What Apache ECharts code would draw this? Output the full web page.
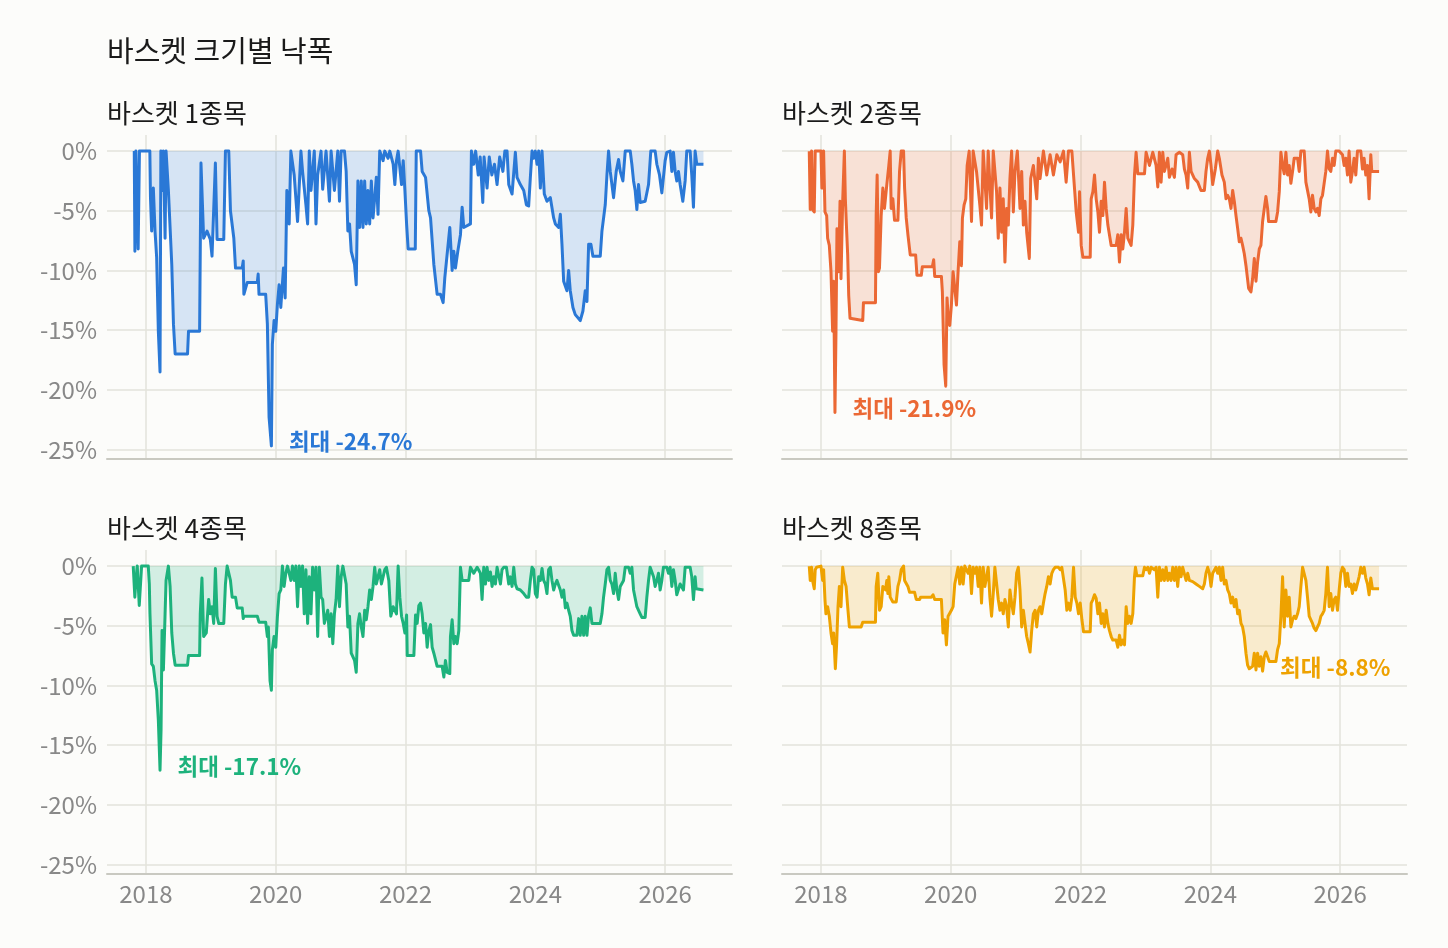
<!DOCTYPE html>
<html>
<head>
<meta charset="utf-8">
<script src="https://cdn.jsdelivr.net/npm/echarts@6/dist/echarts.min.js"></script>
<style>
  html, body { margin: 0; padding: 0; background: #fcfcfa; }
  #chart { width: 1448px; height: 948px; }
</style>
</head>
<body>
<div id="chart"></div>
<script>
// drawdown (%) per basket size, [year, value]
const basket1 = [
  [2017.82,0],[2017.83,-8.4],[2017.845,0],[2017.87,0],[2017.88,-8.2],[2017.90,0],[2018.06,0],[2018.07,-3.9],
  [2018.088,-6.7],[2018.114,-3.1],[2018.14,-6.7],[2018.165,-8.9],[2018.191,-15.1],[2018.217,-18.5],[2018.23,0],
  [2018.243,-3.3],[2018.269,0],[2018.295,-7.3],[2018.31,0],[2018.346,-3.3],[2018.372,-3.3],[2018.398,-9.5],
  [2018.424,-14.5],[2018.45,-17.0],[2018.641,-17.0],[2018.656,-15.1],[2018.827,-15.1],[2018.848,-1.0],
  [2018.889,-7.3],[2018.941,-6.7],[2018.992,-7.4],[2019.018,-8.8],[2019.07,-1.0],[2019.096,-7.4],[2019.199,-7.4],
  [2019.225,0],[2019.276,0],[2019.302,-5.0],[2019.354,-7.3],[2019.38,-9.8],[2019.483,-9.8],[2019.499,-9.2],
  [2019.509,-12.0],[2019.535,-12.0],[2019.561,-11.0],[2019.716,-11.0],[2019.729,-10.3],[2019.742,-12.0],
  [2019.845,-12.0],[2019.871,-14.5],[2019.897,-22.3],[2019.933,-24.7],[2019.948,-16.2],[2019.974,-14.2],
  [2020.0,-15.1],[2020.026,-12.8],[2020.052,-11.2],[2020.078,-13.1],[2020.119,-9.8],[2020.145,-12.3],
  [2020.171,-3.3],[2020.207,-6.1],[2020.233,0],[2020.284,-2.0],[2020.336,-5.9],[2020.388,0],[2020.413,-1.7],
  [2020.465,-4.5],[2020.491,-6.1],[2020.517,0],[2020.543,-3.3],[2020.594,0],[2020.62,-6.1],[2020.646,-2.0],
  [2020.698,0],[2020.723,-3.2],[2020.775,0],[2020.827,-4.2],[2020.853,0],[2020.904,-3.3],[2020.956,0],
  [2020.982,-4.2],[2021.008,0],[2021.059,0],[2021.085,-1.7],[2021.111,-6.7],[2021.137,-6.1],[2021.163,-8.4],
  [2021.214,-9.5],[2021.24,-11.2],[2021.266,-2.5],[2021.292,-6.4],[2021.318,-2.5],[2021.344,-6.4],[2021.37,-2.5],
  [2021.395,-6.1],[2021.421,-3.3],[2021.447,-6.1],[2021.473,-2.5],[2021.499,-5.6],[2021.525,-3.9],[2021.55,-2.2],
  [2021.576,-5.3],[2021.602,0],[2021.654,-0.8],[2021.68,0],[2021.731,-0.6],[2021.757,0],[2021.809,-1.1],
  [2021.835,-2.8],[2021.86,-0.8],[2021.886,0],[2021.938,-2.8],[2021.964,-0.8],[2021.99,-3.3],[2022.016,-6.1],
  [2022.04,-8.2],[2022.15,-8.2],[2022.165,0],[2022.231,0],[2022.256,-1.7],[2022.308,-2.2],[2022.359,-5.0],
  [2022.385,-5.6],[2022.436,-9.5],[2022.487,-12.0],[2022.538,-12.0],[2022.579,-12.7],[2022.605,-10.6],
  [2022.682,-6.4],[2022.718,-10.0],[2022.744,-8.4],[2022.769,-9.8],[2022.805,-8.4],[2022.846,-7.0],
  [2022.872,-4.7],[2022.897,-6.4],[2023.0,-6.1],[2023.015,0],[2023.05,-1.1],[2023.08,0],[2023.12,-2.0],
  [2023.15,-0.5],[2023.19,-4.3],[2023.21,-0.5],[2023.256,-3.1],[2023.29,-0.5],[2023.33,-2.0],[2023.37,-1.1],
  [2023.41,-2.8],[2023.45,-0.5],[2023.5,-1.7],[2023.53,0],[2023.564,0],[2023.59,-2.8],[2023.641,-3.6],
  [2023.692,-0.1],[2023.718,-2.2],[2023.769,-2.8],[2023.821,-3.3],[2023.862,-4.5],[2023.897,-4.6],
  [2023.923,-2.2],[2023.949,0],[2023.974,-0.6],[2024.0,0],[2024.026,-1.1],[2024.051,0],[2024.077,-3.1],
  [2024.103,0],[2024.138,-3.6],[2024.179,-4.2],[2024.231,-3.9],[2024.282,-5.6],[2024.308,-6.1],[2024.359,-6.4],
  [2024.385,-5.3],[2024.41,-7.8],[2024.436,-10.9],[2024.487,-11.7],[2024.513,-10.0],[2024.538,-11.7],
  [2024.579,-13.1],[2024.615,-13.7],[2024.692,-14.2],[2024.733,-13.4],[2024.769,-11.7],[2024.795,-12.6],
  [2024.821,-7.8],[2024.856,-7.8],[2024.887,-8.8],[2025.0,-8.8],[2025.026,-6.7],[2025.077,-4.5],[2025.103,-2.0],
  [2025.128,0],[2025.154,-1.7],[2025.205,-3.9],[2025.246,-1.7],[2025.282,-0.7],[2025.308,-1.7],[2025.349,-2.5],
  [2025.385,0],[2025.462,0],[2025.487,-1.1],[2025.513,-2.5],[2025.538,-3.3],[2025.564,-4.9],[2025.59,-2.8],
  [2025.615,-4.3],[2025.692,-4.2],[2025.744,-2.8],[2025.779,0],[2025.846,0],[2025.872,-1.1],[2025.913,-2.0],
  [2025.949,-3.5],[2026.0,-0.8],[2026.026,-0.1],[2026.077,0],[2026.103,-1.7],[2026.128,-0.1],[2026.154,-1.7],
  [2026.179,-2.5],[2026.205,-1.7],[2026.231,-2.8],[2026.272,-4.2],[2026.308,-2.5],[2026.333,0],[2026.385,0],
  [2026.41,-2.0],[2026.436,-4.7],[2026.462,0],[2026.487,-1.1],[2026.59,-1.1]
];

const basket2 = [
  [2017.82,0],[2017.835,-4.9],[2017.856,0],[2017.871,-4.9],[2017.897,-5.1],[2017.912,0],[2018.0,0],[2018.015,-3.1],
  [2018.041,0],[2018.062,-5.1],[2018.088,-5.4],[2018.103,-7.3],[2018.129,-7.9],[2018.155,-10.1],[2018.18,-15.1],
  [2018.196,-10.9],[2018.216,-21.9],[2018.232,-15.1],[2018.247,-6.5],[2018.273,-10.1],[2018.294,-4.2],
  [2018.309,-10.7],[2018.335,-4.2],[2018.361,0],[2018.376,-4.0],[2018.397,-6.8],[2018.412,-8.7],[2018.428,-12.1],
  [2018.448,-14.0],[2018.644,-14.2],[2018.655,-12.7],[2018.84,-12.7],[2018.851,-5.4],[2018.866,-2.0],
  [2018.887,-10.1],[2018.902,-9.8],[2018.928,-5.4],[2018.954,-3.1],[2018.979,-4.8],[2019.015,-2.8],
  [2019.046,-1.2],[2019.067,0],[2019.082,-4.8],[2019.108,-4.0],[2019.134,-5.8],[2019.186,-5.8],[2019.211,-1.7],
  [2019.237,0],[2019.273,0],[2019.289,-3.1],[2019.314,-5.6],[2019.34,-7.0],[2019.376,-8.7],[2019.459,-8.7],
  [2019.479,-10.4],[2019.546,-10.4],[2019.562,-9.7],[2019.716,-9.7],[2019.737,-9.1],[2019.753,-10.5],
  [2019.856,-10.5],[2019.871,-11.8],[2019.897,-17.9],[2019.923,-19.7],[2019.943,-12.3],[2019.964,-14.3],
  [2019.985,-14.6],[2020.01,-12.9],[2020.036,-10.1],[2020.062,-11.5],[2020.088,-12.9],[2020.113,-10.1],
  [2020.139,-7.6],[2020.165,-9.6],[2020.18,-5.6],[2020.206,-4.5],[2020.232,-4.0],[2020.253,-1.2],[2020.284,0],
  [2020.32,-5.9],[2020.345,0],[2020.397,-1.7],[2020.448,-4.5],[2020.474,-6.2],[2020.5,0],[2020.552,-4.8],
  [2020.577,0],[2020.629,-5.6],[2020.655,0],[2020.706,-3.4],[2020.732,-7.3],[2020.758,-3.1],[2020.784,-6.8],
  [2020.809,-4.0],[2020.835,-9.3],[2020.861,-4.8],[2020.887,-6.2],[2020.912,-2.3],[2020.938,0],[2020.964,-5.1],
  [2020.99,-1.7],[2021.026,0],[2021.067,-4.8],[2021.093,-1.7],[2021.119,-6.2],[2021.144,-4.2],[2021.17,-6.8],
  [2021.211,-9.0],[2021.232,-2.3],[2021.273,-1.2],[2021.325,-4.0],[2021.351,-0.6],[2021.376,-2.3],[2021.428,0],
  [2021.479,-2.0],[2021.531,-0.3],[2021.582,-2.0],[2021.634,-0.3],[2021.686,-0.9],[2021.737,0],[2021.778,-2.6],
  [2021.814,0],[2021.866,0],[2021.892,-2.0],[2021.933,-5.1],[2021.969,-6.8],[2021.985,-3.4],[2022.01,-7.9],
  [2022.036,-8.9],[2022.149,-8.9],[2022.164,-4.0],[2022.19,-3.4],[2022.215,-2.0],[2022.241,-4.0],[2022.267,-5.1],
  [2022.292,-6.8],[2022.318,-4.2],[2022.344,-5.4],[2022.369,-2.6],[2022.395,-4.8],[2022.421,-6.2],[2022.472,-7.9],
  [2022.549,-7.9],[2022.574,-7.0],[2022.6,-9.3],[2022.626,-7.0],[2022.651,-8.2],[2022.677,-6.8],[2022.703,-4.8],
  [2022.728,-7.3],[2022.754,-7.6],[2022.779,-7.9],[2022.805,-6.2],[2022.831,-2.0],[2022.856,-0.1],[2022.882,-1.9],
  [2022.985,-1.9],[2023.01,-0.1],[2023.062,-1.2],[2023.113,-0.1],[2023.164,-1.2],[2023.19,-3.0],[2023.215,-0.1],
  [2023.241,-2.6],[2023.267,-0.1],[2023.292,-1.7],[2023.344,-0.6],[2023.369,-2.2],[2023.41,-1.5],[2023.446,-2.2],
  [2023.472,-0.3],[2023.523,-0.1],[2023.574,-0.3],[2023.6,-1.5],[2023.626,-2.0],[2023.651,-3.1],[2023.677,-0.1],
  [2023.703,-1.7],[2023.754,-2.3],[2023.805,-2.6],[2023.856,-3.3],[2023.908,-3.3],[2023.933,-1.7],[2023.959,-0.6],
  [2023.985,0],[2024.01,-1.2],[2024.036,-2.8],[2024.077,-1.5],[2024.113,0],[2024.138,-0.6],[2024.179,-2.0],
  [2024.215,-2.6],[2024.241,-4.0],[2024.267,-3.7],[2024.292,-4.0],[2024.318,-4.8],[2024.344,-3.3],[2024.369,-4.2],
  [2024.395,-5.4],[2024.421,-6.5],[2024.446,-7.6],[2024.472,-7.3],[2024.497,-7.9],[2024.523,-8.6],[2024.549,-9.6],
  [2024.59,-11.5],[2024.626,-11.8],[2024.651,-10.7],[2024.677,-9.0],[2024.703,-10.9],[2024.728,-9.3],
  [2024.754,-8.2],[2024.779,-7.9],[2024.805,-5.9],[2024.831,-4.8],[2024.856,-3.8],[2024.882,-4.8],[2024.897,-5.9],
  [2025.01,-5.9],[2025.036,-5.1],[2025.062,-3.4],[2025.087,-0.1],[2025.113,-1.2],[2025.138,-1.9],[2025.164,-0.1],
  [2025.19,-2.0],[2025.215,-1.2],[2025.241,-2.7],[2025.267,-1.7],[2025.292,-0.6],[2025.344,-0.6],[2025.369,-1.7],
  [2025.395,0],[2025.446,0],[2025.472,-2.6],[2025.523,-4.0],[2025.549,-5.1],[2025.574,-3.7],[2025.6,-4.8],
  [2025.626,-5.1],[2025.651,-4.8],[2025.677,-5.4],[2025.703,-4.0],[2025.728,-3.7],[2025.779,-1.7],[2025.805,0],
  [2025.831,-1.5],[2025.856,-1.7],[2025.882,-0.6],[2025.908,-1.2],[2025.933,0],[2025.985,0],[2026.036,-0.3],
  [2026.062,-1.2],[2026.087,-0.6],[2026.113,-2.0],[2026.138,0],[2026.164,-2.6],[2026.19,-1.7],[2026.215,-0.6],
  [2026.241,-2.0],[2026.267,0],[2026.318,0],[2026.344,-1.5],[2026.369,-0.6],[2026.395,-2.0],[2026.421,-1.2],
  [2026.446,-4.0],[2026.472,-0.3],[2026.487,-1.7],[2026.6,-1.7]
];

const basket4 = [
  [2017.804,0],[2017.829,-2.6],[2017.845,-1.2],[2017.866,0],[2017.881,0],[2017.897,-3.3],[2017.917,-3.3],
  [2017.933,0],[2018.036,0],[2018.052,-1.5],[2018.062,-4.0],[2018.088,-8.2],[2018.114,-8.4],[2018.14,-9.6],
  [2018.165,-10.4],[2018.191,-12.9],[2018.217,-17.1],[2018.233,-13.7],[2018.248,-5.4],[2018.269,-8.7],
  [2018.295,-4.0],[2018.31,-1.2],[2018.346,0],[2018.372,-1.7],[2018.398,-5.6],[2018.424,-7.3],[2018.45,-8.3],
  [2018.641,-8.3],[2018.656,-7.5],[2018.827,-7.5],[2018.837,-4.0],[2018.863,-1.0],[2018.889,-5.9],[2018.93,-5.6],
  [2018.966,-2.8],[2018.992,-4.0],[2019.018,-3.4],[2019.044,-4.8],[2019.07,-0.2],[2019.096,-4.2],[2019.121,-4.8],
  [2019.199,-4.8],[2019.225,-1.5],[2019.251,0],[2019.276,-0.1],[2019.302,-1.2],[2019.328,-2.6],[2019.38,-2.6],
  [2019.406,-3.5],[2019.483,-3.5],[2019.499,-4.4],[2019.509,-4.2],[2019.716,-4.2],[2019.742,-4.7],
  [2019.845,-4.7],[2019.871,-5.9],[2019.886,-5.1],[2019.912,-9.6],[2019.933,-10.4],[2019.948,-7.0],
  [2019.974,-5.9],[2020.0,-6.8],[2020.026,-4.2],[2020.052,-2.3],[2020.078,-2.0],[2020.103,0],[2020.129,-1.7],
  [2020.155,-0.6],[2020.181,0],[2020.233,-1.2],[2020.258,0],[2020.284,-1.2],[2020.31,0],[2020.336,-3.4],
  [2020.362,0],[2020.388,-1.7],[2020.413,0],[2020.439,-4.0],[2020.465,-0.3],[2020.491,-4.8],[2020.517,-0.9],
  [2020.543,-4.0],[2020.568,-0.1],[2020.594,-2.0],[2020.62,-0.1],[2020.646,-5.9],[2020.672,-0.1],[2020.698,-2.6],
  [2020.723,-2.8],[2020.749,-4.8],[2020.801,-3.7],[2020.827,-5.9],[2020.853,-4.0],[2020.879,-6.5],[2020.904,-4.0],
  [2020.93,-2.8],[2020.956,0],[2020.982,-3.4],[2021.008,-0.9],[2021.034,0],[2021.059,0],[2021.085,-1.5],
  [2021.111,-5.1],[2021.137,-4.2],[2021.163,-7.3],[2021.214,-7.9],[2021.24,-8.9],[2021.266,-4.8],[2021.292,-4.0],
  [2021.318,-5.1],[2021.344,-5.9],[2021.37,-3.7],[2021.395,-4.5],[2021.421,-3.4],[2021.447,-2.0],[2021.473,-2.8],
  [2021.499,-1.7],[2021.525,-0.1],[2021.55,-1.5],[2021.576,-0.9],[2021.602,-0.3],[2021.628,-1.5],[2021.654,-0.9],
  [2021.68,-0.3],[2021.705,-0.1],[2021.731,0],[2021.742,-1.2],[2021.773,-4.2],[2021.809,-3.4],[2021.86,-4.0],
  [2021.886,0],[2021.912,-2.6],[2021.938,-4.2],[2021.964,-4.8],[2021.99,-5.6],[2022.016,-4.1],[2022.026,-7.5],
  [2022.128,-7.5],[2022.154,-4.1],[2022.179,-4.8],[2022.205,-3.3],[2022.231,-3.1],[2022.256,-4.0],[2022.282,-5.6],
  [2022.308,-4.8],[2022.333,-6.8],[2022.359,-5.4],[2022.385,-4.9],[2022.41,-6.8],[2022.436,-7.3],[2022.487,-8.4],
  [2022.564,-8.4],[2022.59,-9.3],[2022.615,-7.9],[2022.641,-8.9],[2022.682,-9.0],[2022.692,-5.9],[2022.718,-4.5],
  [2022.744,-6.5],[2022.769,-5.9],[2022.795,-6.5],[2022.821,-5.4],[2022.846,-0.1],[2022.872,-1.2],[2022.974,-1.2],
  [2023.0,-0.1],[2023.051,-0.6],[2023.103,-0.1],[2023.154,-0.6],[2023.179,-2.8],[2023.205,-0.1],[2023.231,-1.5],
  [2023.256,-0.1],[2023.282,-1.2],[2023.308,-0.5],[2023.333,-1.7],[2023.359,-0.9],[2023.385,-1.5],[2023.41,-0.1],
  [2023.462,-1.5],[2023.487,-0.3],[2023.513,-0.1],[2023.554,-0.1],[2023.59,-1.5],[2023.615,-0.9],[2023.641,-1.7],
  [2023.667,-0.1],[2023.692,-1.5],[2023.718,-1.9],[2023.769,-2.0],[2023.821,-2.3],[2023.862,-2.6],[2023.897,-2.6],
  [2023.923,-1.2],[2023.949,-0.1],[2023.974,-0.3],[2024.0,-2.3],[2024.026,-2.6],[2024.051,-0.9],[2024.077,-1.2],
  [2024.103,-0.2],[2024.128,-1.2],[2024.154,-1.5],[2024.179,-2.3],[2024.205,-0.3],[2024.231,-0.1],[2024.256,-1.2],
  [2024.282,-2.0],[2024.308,-1.5],[2024.333,-1.2],[2024.359,-1.3],[2024.385,-2.0],[2024.41,-2.6],[2024.436,-2.0],
  [2024.462,-3.5],[2024.487,-3.1],[2024.513,-3.7],[2024.538,-4.2],[2024.564,-5.4],[2024.59,-5.8],[2024.641,-5.8],
  [2024.667,-4.4],[2024.692,-5.8],[2024.718,-4.2],[2024.744,-5.8],[2024.769,-4.2],[2024.795,-5.8],[2024.821,-4.1],
  [2024.846,-3.5],[2024.872,-4.8],[2025.0,-4.8],[2025.026,-4.0],[2025.051,-2.6],[2025.077,-1.5],[2025.103,-0.3],
  [2025.128,-0.1],[2025.154,-1.2],[2025.179,-1.5],[2025.205,-2.3],[2025.231,-0.6],[2025.256,-2.0],[2025.282,-2.8],
  [2025.308,-1.7],[2025.333,-1.7],[2025.359,-1.2],[2025.385,-0.1],[2025.436,-0.1],[2025.462,-0.6],[2025.487,-0.1],
  [2025.513,-2.0],[2025.564,-3.4],[2025.59,-3.7],[2025.615,-4.0],[2025.641,-4.3],[2025.692,-4.3],[2025.718,-2.6],
  [2025.744,-1.2],[2025.769,-0.1],[2025.795,-0.1],[2025.821,-0.9],[2025.846,-1.7],[2025.872,-1.2],[2025.897,-0.6],
  [2025.923,-2.0],[2025.949,-1.2],[2025.974,-0.1],[2026.026,-0.1],[2026.051,-0.6],[2026.077,-0.1],[2026.103,-1.7],
  [2026.128,-0.3],[2026.154,-1.2],[2026.179,-2.4],[2026.205,-2.3],[2026.231,-1.5],[2026.282,-2.0],[2026.308,-0.1],
  [2026.385,-0.1],[2026.41,-0.9],[2026.436,-2.8],[2026.462,-0.9],[2026.477,-1.9],[2026.59,-2.0]
];

const basket8 = [
  [2017.82,0],[2017.835,-1.2],[2017.856,-0.1],[2017.871,-1.2],[2017.897,-1.9],[2017.912,-0.3],[2017.933,-0.1],
  [2018.0,0],[2018.026,-1.2],[2018.041,-0.3],[2018.062,-2.8],[2018.077,-4.0],[2018.103,-3.4],[2018.129,-4.2],
  [2018.155,-5.6],[2018.18,-6.5],[2018.196,-5.6],[2018.222,-8.6],[2018.242,-6.5],[2018.263,-3.4],[2018.284,-1.7],
  [2018.309,-3.4],[2018.335,-0.1],[2018.361,-1.2],[2018.387,-1.7],[2018.412,-3.4],[2018.438,-5.1],[2018.619,-5.1],
  [2018.644,-4.7],[2018.84,-4.7],[2018.851,-1.7],[2018.876,-0.6],[2018.902,-3.7],[2018.928,-3.4],[2018.954,-1.7],
  [2018.995,-2.0],[2019.015,-1.2],[2019.031,-2.3],[2019.046,-0.9],[2019.067,-2.6],[2019.108,-3.0],[2019.16,-3.0],
  [2019.186,-1.7],[2019.211,-1.2],[2019.237,-0.3],[2019.273,0],[2019.289,-1.2],[2019.314,-1.2],[2019.34,-1.7],
  [2019.366,-2.2],[2019.443,-2.2],[2019.469,-2.8],[2019.521,-2.8],[2019.536,-2.6],[2019.701,-2.6],[2019.727,-2.4],
  [2019.753,-2.8],[2019.856,-2.8],[2019.881,-5.6],[2019.907,-4.5],[2019.933,-6.6],[2019.959,-4.2],[2019.985,-4.2],
  [2020.01,-3.7],[2020.036,-3.4],[2020.062,-1.5],[2020.088,-1.5],[2020.113,-0.1],[2020.139,-1.5],[2020.165,-0.1],
  [2020.191,-1.5],[2020.216,0],[2020.268,-0.6],[2020.294,0],[2020.32,-2.3],[2020.345,-0.1],[2020.371,-0.6],
  [2020.397,-0.1],[2020.423,-1.7],[2020.448,-0.1],[2020.474,-3.1],[2020.5,-0.1],[2020.526,-1.7],[2020.577,-0.1],
  [2020.603,-2.6],[2020.629,-4.2],[2020.655,-2.3],[2020.68,-0.1],[2020.706,-0.1],[2020.732,-2.8],[2020.758,-3.7],
  [2020.784,-3.1],[2020.809,-4.0],[2020.835,-2.8],[2020.861,-3.4],[2020.887,-5.1],[2020.912,-2.0],[2020.938,-3.1],
  [2020.964,-4.0],[2020.99,-2.6],[2021.015,-0.6],[2021.041,-0.1],[2021.067,-2.0],[2021.093,-5.1],[2021.119,-3.7],
  [2021.144,-4.8],[2021.17,-5.9],[2021.196,-6.5],[2021.222,-7.2],[2021.247,-5.4],[2021.273,-4.0],[2021.299,-3.7],
  [2021.325,-5.1],[2021.351,-3.7],[2021.376,-3.4],[2021.402,-4.0],[2021.428,-3.1],[2021.454,-2.3],[2021.479,-1.7],
  [2021.505,-0.9],[2021.531,-1.5],[2021.557,-0.6],[2021.582,-0.3],[2021.608,-0.1],[2021.66,-0.1],[2021.686,-0.3],
  [2021.711,-0.1],[2021.737,-0.1],[2021.763,-2.0],[2021.789,-3.7],[2021.814,-3.1],[2021.84,-3.7],[2021.866,-2.6],
  [2021.892,-0.1],[2021.918,-2.6],[2021.943,-3.1],[2021.969,-4.0],[2021.995,-3.1],[2022.021,-4.5],[2022.036,-5.1],
  [2022.046,-5.5],[2022.149,-5.5],[2022.164,-3.1],[2022.19,-2.8],[2022.215,-2.4],[2022.241,-2.7],[2022.267,-4.0],
  [2022.292,-3.1],[2022.318,-4.8],[2022.344,-4.0],[2022.369,-5.1],[2022.395,-3.7],[2022.421,-4.8],[2022.446,-5.4],
  [2022.472,-5.9],[2022.497,-6.2],[2022.549,-6.2],[2022.574,-6.8],[2022.6,-5.8],[2022.626,-6.6],[2022.651,-6.2],
  [2022.677,-6.6],[2022.703,-3.4],[2022.728,-4.8],[2022.754,-4.2],[2022.779,-4.8],[2022.805,-4.0],[2022.831,-0.9],
  [2022.846,-0.1],[2022.867,-0.8],[2022.959,-0.8],[2022.985,-0.1],[2023.01,-0.3],[2023.036,-0.1],[2023.062,-0.6],
  [2023.087,-0.1],[2023.138,-0.3],[2023.164,-0.1],[2023.19,-2.6],[2023.215,-0.1],[2023.241,-1.2],[2023.267,-0.3],
  [2023.292,-1.2],[2023.318,-0.1],[2023.344,-1.2],[2023.369,-0.6],[2023.395,-1.2],[2023.421,-0.1],[2023.446,-1.2],
  [2023.472,-0.1],[2023.497,-1.7],[2023.523,-0.1],[2023.549,-0.9],[2023.574,-0.1],[2023.626,-1.2],[2023.651,-0.6],
  [2023.677,-1.2],[2023.728,-1.3],[2023.779,-1.5],[2023.831,-1.7],[2023.882,-1.9],[2023.908,-1.5],[2023.933,-0.6],
  [2023.959,-0.1],[2023.985,-0.6],[2024.01,-1.7],[2024.036,-0.6],[2024.087,-0.1],[2024.113,-0.6],[2024.138,-0.1],
  [2024.164,-1.2],[2024.19,-0.1],[2024.215,-1.5],[2024.241,-1.2],[2024.267,-2.0],[2024.292,-2.3],[2024.318,-3.1],
  [2024.344,-2.6],[2024.369,-3.4],[2024.395,-2.8],[2024.421,-4.0],[2024.446,-3.7],[2024.472,-4.8],[2024.497,-5.1],
  [2024.523,-5.9],[2024.549,-7.3],[2024.574,-8.3],[2024.6,-8.6],[2024.651,-8.4],[2024.677,-7.3],[2024.703,-8.7],
  [2024.728,-7.3],[2024.754,-8.4],[2024.779,-7.6],[2024.805,-8.8],[2024.831,-7.6],[2024.856,-7.2],[2024.882,-7.6],
  [2024.908,-8.0],[2025.01,-8.0],[2025.036,-7.0],[2025.062,-6.5],[2025.087,-4.2],[2025.113,-0.9],[2025.138,-5.1],
  [2025.164,-2.0],[2025.19,-4.2],[2025.215,-2.6],[2025.241,-5.1],[2025.267,-4.5],[2025.292,-4.2],[2025.318,-4.4],
  [2025.344,-4.0],[2025.369,-3.4],[2025.395,-1.7],[2025.421,-0.1],[2025.446,-0.1],[2025.472,-1.2],[2025.497,-2.6],
  [2025.523,-4.2],[2025.549,-4.5],[2025.574,-4.8],[2025.6,-5.2],[2025.626,-5.4],[2025.651,-5.1],[2025.677,-4.8],
  [2025.703,-4.2],[2025.728,-4.0],[2025.754,-3.7],[2025.779,-2.3],[2025.805,-0.1],[2025.831,-3.4],[2025.856,-2.3],
  [2025.882,-3.7],[2025.908,-2.8],[2025.933,-2.6],[2025.959,-3.7],[2025.985,-2.0],[2026.01,-0.6],[2026.036,-0.1],
  [2026.062,-0.3],[2026.087,-1.7],[2026.113,-0.6],[2026.138,-1.7],[2026.164,-1.5],[2026.19,-2.3],[2026.215,-1.5],
  [2026.241,-2.0],[2026.267,-1.9],[2026.292,-0.9],[2026.318,-0.1],[2026.344,-0.6],[2026.369,-0.1],[2026.395,-1.0],
  [2026.421,-1.5],[2026.446,-2.4],[2026.472,-1.0],[2026.497,-1.9],[2026.6,-1.9]
];

const panelNames = ['바스켓 1종목', '바스켓 2종목', '바스켓 4종목', '바스켓 8종목'];
const panelData = [basket1, basket2, basket4, basket8];
const colors = ['#2a78d6', '#eb6834', '#1db27c', '#eea200'];
const yearTicks = [2018, 2020, 2022, 2024, 2026];
const pctTicks = [0, -5, -10, -15, -20, -25];

const FONT = '"Noto Sans CJK KR", "Noto Sans", sans-serif';
const log = console.log.bind(console);

// panel boxes in px
const boxes = [
  { left: 107, top: 135 }, { left: 782, top: 135 },
  { left: 107, top: 550 }, { left: 782, top: 550 }
];
const W = 625, H = 324;

const chart = echarts.init(document.getElementById('chart'), null, { renderer: 'canvas' });

const lowest = d => d.reduce((m, p) => (p[1] < m[1] ? p : m), d[0]);

const titles = [{
  text: '바스켓 크기별 낙폭', left: 102, top: 31,
  textStyle: { fontFamily: FONT, fontSize: 29, fontWeight: 'normal', color: '#1a1a1a' }
}];
panelNames.forEach((n, i) => titles.push({
  text: n, left: boxes[i].left - 5, top: boxes[i].top - 40,
  textStyle: { fontFamily: FONT, fontSize: 26, fontWeight: 'normal', color: '#1a1a1a' }
}));

const option = {
  backgroundColor: '#fcfcfa',
  animation: false,
  title: titles,
  grid: boxes.map(b => ({ left: b.left, top: b.top, width: W, height: H, containLabel: false })),
  xAxis: boxes.map((b, i) => ({
    type: 'value', gridIndex: i, min: 2017.4, max: 2027.03,
    axisLine: { show: true, onZero: false, lineStyle: { color: '#c9c9c1', width: 2 } },
    axisTick: { show: false, customValues: yearTicks },
    axisLabel: {
      show: i >= 2, customValues: yearTicks, margin: 8,
      fontFamily: FONT, fontSize: 24, color: '#888888', formatter: v => String(v)
    },
    splitLine: { show: true, lineStyle: { color: '#e3e3db', width: 1.5 } }
  })),
  yAxis: boxes.map((b, i) => ({
    type: 'value', gridIndex: i, min: -25.8, max: 1.35,
    axisLine: { show: false },
    axisTick: { show: false, customValues: pctTicks },
    axisLabel: {
      show: i % 2 === 0, customValues: pctTicks, margin: 10,
      fontFamily: FONT, fontSize: 24, color: '#888888', formatter: v => v + '%'
    },
    splitLine: { show: true, lineStyle: { color: '#e3e3db', width: 1.5 } }
  })),
  series: panelData.map((d, i) => {
    const m = lowest(d);
    return {
      type: 'line', xAxisIndex: i, yAxisIndex: i,
      data: d, showSymbol: false, symbol: 'none', sampling: 'none',
      lineStyle: { color: colors[i], width: 3, join: 'round' },
      itemStyle: { color: colors[i] },
      areaStyle: { color: colors[i], opacity: 0.18, origin: 'auto' },
      markPoint: {
        symbol: 'circle', symbolSize: 1, silent: true,
        itemStyle: { color: 'rgba(0,0,0,0)' },
        label: {
          show: true, position: 'right', distance: 17, offset: [0, -4],
          formatter: '최대 ' + m[1].toFixed(1) + '%',
          fontFamily: FONT, fontSize: 22.5, fontWeight: 'bold', color: colors[i]
        },
        data: [{ coord: m }]
      }
    };
  })
};

chart.setOption(option);
log('drawdown chart rendered');
</script>
</body>
</html>
